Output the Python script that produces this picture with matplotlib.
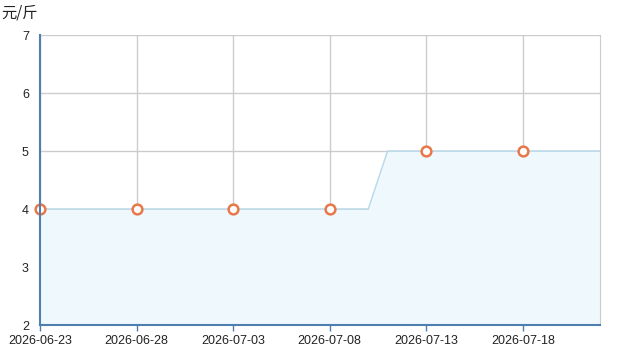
import matplotlib
matplotlib.use("Agg")
import matplotlib.pyplot as plt
import pandas as pd

plt.rcParams['font.family'] = ['Liberation Sans', 'Noto Sans CJK SC', 'DejaVu Sans']

# daily price series (元/斤)
dates = pd.date_range("2026-06-23", "2026-07-22", freq="D")
prices = [4]*18 + [5]*12
# marked sample points
mark_dates = pd.to_datetime(["2026-06-23", "2026-06-28", "2026-07-03",
                             "2026-07-08", "2026-07-13", "2026-07-18"])
mark_prices = [4, 4, 4, 4, 5, 5]
tick_labels = ["2026-06-23", "2026-06-28", "2026-07-03", "2026-07-08",
               "2026-07-13", "2026-07-18"]
yticks = [2, 3, 4, 5, 6, 7]

fig = plt.figure(figsize=(6.4, 3.59), dpi=100)
ax = fig.add_axes([40/640, 34/359, 560/640, 290/359])

ax.fill_between(dates, prices, 2, color="#eef8fd", linewidth=0, zorder=1)
ax.plot(dates, prices, color="#b6d7ea", linewidth=1, zorder=2)
ax.plot(mark_dates, mark_prices, linestyle="none", marker="o", markersize=7,
        markerfacecolor="white", markeredgecolor="#e8784a", markeredgewidth=1.8,
        zorder=4, clip_on=False)

ax.set_xlim(dates[0], dates[-1])
ax.set_ylim(2, 7)
ax.set_yticks(yticks)
ax.set_xticks(mark_dates)
ax.set_xticklabels(tick_labels)

ax.grid(True, color="#cccccc", linewidth=1, zorder=0)
ax.set_axisbelow(True)
ax.spines["top"].set_visible(False)
ax.spines["right"].set_color("#cccccc")
ax.spines["left"].set_color("#4f7eb1")
ax.spines["bottom"].set_color("#4f7eb1")
ax.spines["left"].set_linewidth(1.5)
ax.spines["bottom"].set_linewidth(1.5)
ax.spines["left"].set_zorder(5)
ax.spines["bottom"].set_zorder(5)

ax.tick_params(axis="y", length=0, pad=8, labelsize=9, labelcolor="#222222")
ax.tick_params(axis="x", length=4, width=1, color="#4f7eb1", pad=3,
               labelsize=9, labelcolor="#222222")

fig.text(1/640, 1 - 13/359, "元/斤", fontsize=11, va="center", ha="left",
         color="#222222", family=['Noto Sans CJK SC', 'DejaVu Sans'])

fig.savefig("out.png", dpi=100)
